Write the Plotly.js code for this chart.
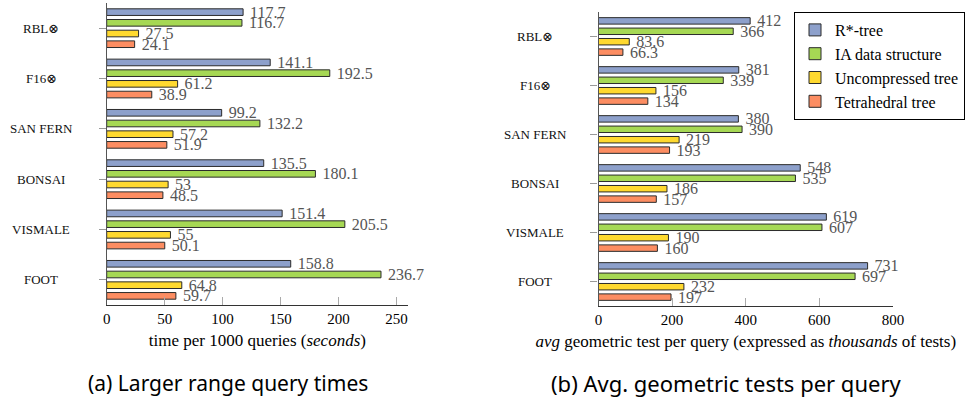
<!DOCTYPE html>
<html>
<head>
<meta charset="utf-8">
<script src="https://cdn.plot.ly/plotly-3.0.1.min.js"></script>
<style>html,body{margin:0;padding:0;background:#fff;}#chart{width:970px;height:401px;}</style>
</head>
<body>
<div id="chart"></div>
<script>
const categories = ["RBL⊗", "F16⊗", "SAN FERN", "BONSAI", "VISMALE", "FOOT"];
const seriesNames = ["R*-tree", "IA data structure", "Uncompressed tree", "Tetrahedral tree"];
const colors = ["#8da0cb", "#a6d854", "#ffd92f", "#fc8d62"];

// (a) time per 1000 queries (seconds)
const timeRStar = [117.7, 141.1, 99.2, 135.5, 151.4, 158.8];
const timeIA = [116.7, 192.5, 132.2, 180.1, 205.5, 236.7];
const timeUncomp = [27.5, 61.2, 57.2, 53, 55, 64.8];
const timeTetra = [24.1, 38.9, 51.9, 48.5, 50.1, 59.7];

// (b) avg geometric tests per query (thousands)
const testsRStar = [412, 381, 380, 548, 619, 731];
const testsIA = [366, 339, 390, 535, 607, 697];
const testsUncomp = [83.6, 156, 219, 186, 190, 232];
const testsTetra = [66.3, 134, 193, 157, 160, 197];

const xTicksA = [0, 50, 100, 150, 200, 250];
const xTicksB = [0, 200, 400, 600, 800];

const serif = "'Liberation Serif', 'DejaVu Serif', serif";
const timeSeries = [timeRStar, timeIA, timeUncomp, timeTetra];
const testSeries = [testsRStar, testsIA, testsUncomp, testsTetra];

const traces = [];
function addTraces(seriesList, xa, ya, showLegend) {
  seriesList.forEach((vals, i) => {
    traces.push({
      type: "bar", orientation: "h",
      x: vals, y: categories,
      xaxis: xa, yaxis: ya,
      name: seriesNames[i], legendgroup: seriesNames[i], showlegend: showLegend,
      marker: {color: colors[i], line: {color: "#2b2b2b", width: 1}},
      text: vals.map(v => " " + String(v)),
      textposition: "outside", constraintext: "none", cliponaxis: false,
      textfont: {family: serif, size: 16, color: "#555555"},
      hoverinfo: "x+name"
    });
  });
}
addTraces(timeSeries, "x", "y", false);
addTraces(testSeries, "x2", "y2", true);

const annotations = [];
categories.forEach(c => {
  annotations.push({xref: "paper", yref: "y", x: 41 / 970, y: c, text: c, showarrow: false,
    xanchor: "center", yanchor: "middle", font: {family: serif, size: 13, color: "#111"}});
  annotations.push({xref: "paper", yref: "y2", x: 535 / 970, y: c, text: c, showarrow: false,
    xanchor: "center", yanchor: "middle", font: {family: serif, size: 13, color: "#111"}});
});
annotations.push({xref: "paper", yref: "paper", x: 228 / 970, y: 1 - 383 / 401, text: "(a) Larger range query times",
  showarrow: false, xanchor: "center", yanchor: "middle", font: {family: "'Noto Sans', sans-serif", size: 21, color: "#000"}});
annotations.push({xref: "paper", yref: "paper", x: 726 / 970, y: 1 - 383 / 401, text: "(b) Avg. geometric tests per query",
  showarrow: false, xanchor: "center", yanchor: "middle", font: {family: "'Noto Sans', sans-serif", size: 22, color: "#000"}});

const xCommon = {
  showgrid: false, zeroline: false, showline: true, linecolor: "#333", linewidth: 1.2,
  ticks: "inside", ticklen: 8, tickcolor: "#aaaaaa", tickwidth: 1,
  tickfont: {family: serif, size: 15, color: "#000"}, fixedrange: true
};
const yCommon = {
  type: "category", showgrid: false, zeroline: false, showline: true, linecolor: "#555", linewidth: 1.2,
  ticks: "outside", ticklen: 7, tickcolor: "#999999", showticklabels: false,
  range: [5.5, -0.5], fixedrange: true
};

const layout = {
  width: 970, height: 401,
  margin: {l: 0, r: 0, t: 0, b: 0},
  paper_bgcolor: "#fff", plot_bgcolor: "#fff",
  barmode: "group", bargap: 0.15, bargroupgap: 0.38,
  showlegend: true,
  legend: {x: 794 / 970, y: 1 - 12 / 401, xanchor: "left", yanchor: "top",
    bordercolor: "#000", borderwidth: 1, bgcolor: "#fff",
    font: {family: serif, size: 16, color: "#000"}, traceorder: "normal"},
  xaxis: Object.assign({}, xCommon, {domain: [106.7 / 970, 408 / 970], range: [0, 260],
    tickvals: xTicksA, anchor: "y",
    title: {text: "time per 1000 queries (<i>seconds</i>)", font: {family: serif, size: 17, color: "#000"}, standoff: 8}}),
  yaxis: Object.assign({}, yCommon, {domain: [1 - 305 / 401, 1 - 3 / 401], anchor: "x"}),
  xaxis2: Object.assign({}, xCommon, {domain: [598.5 / 970, 893 / 970], range: [0, 800],
    tickvals: xTicksB, anchor: "y2",
    title: {text: "<i>avg</i> geometric test per query (expressed as <i>thousands</i> of tests)", font: {family: serif, size: 17, color: "#000"}, standoff: 8}}),
  yaxis2: Object.assign({}, yCommon, {domain: [1 - 306 / 401, 1 - 12 / 401], anchor: "x2"}),
  annotations: annotations
};

Plotly.newPlot("chart", traces, layout, {displayModeBar: false});
</script>
</body>
</html>
